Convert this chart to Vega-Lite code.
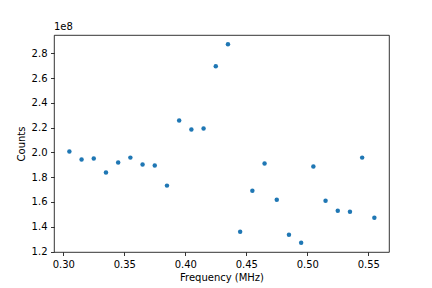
{
  "$schema": "https://vega.github.io/schema/vega-lite/v6.json",
  "width": 335,
  "height": 217,
  "autosize": "none",
  "padding": {"left": 54, "top": 35, "right": 43, "bottom": 36},
  "title": {"text": "1e8", "anchor": "start", "frame": "group", "fontSize": 10, "fontWeight": "normal", "font": "DejaVu Sans", "color": "#000", "offset": 3},
  "config": {
    "view": {"stroke": "#000", "strokeWidth": 0.8},
    "axis": {
      "grid": false, "domain": false, "tickColor": "#000", "tickSize": 3.5, "tickWidth": 0.8,
      "labelFont": "DejaVu Sans", "labelFontSize": 10, "labelColor": "#000", "labelPadding": 3.5,
      "titleFont": "DejaVu Sans", "titleFontSize": 10, "titleFontWeight": "normal", "titleColor": "#000"
    }
  },
  "data": {"values": [
    {"f": 0.305, "c": 200700000},
    {"f": 0.315, "c": 194200000},
    {"f": 0.325, "c": 195000000},
    {"f": 0.335, "c": 183700000},
    {"f": 0.345, "c": 191800000},
    {"f": 0.355, "c": 195800000},
    {"f": 0.365, "c": 190200000},
    {"f": 0.375, "c": 189400000},
    {"f": 0.385, "c": 173200000},
    {"f": 0.395, "c": 225800000},
    {"f": 0.405, "c": 218500000},
    {"f": 0.415, "c": 219300000},
    {"f": 0.425, "c": 269500000},
    {"f": 0.435, "c": 287300000},
    {"f": 0.445, "c": 135900000},
    {"f": 0.455, "c": 169100000},
    {"f": 0.465, "c": 191000000},
    {"f": 0.475, "c": 161800000},
    {"f": 0.485, "c": 133500000},
    {"f": 0.495, "c": 127000000},
    {"f": 0.505, "c": 188600000},
    {"f": 0.515, "c": 161000000},
    {"f": 0.525, "c": 152900000},
    {"f": 0.535, "c": 152100000},
    {"f": 0.545, "c": 195800000},
    {"f": 0.555, "c": 147300000}
  ]},
  "mark": {"type": "point", "filled": true, "opacity": 1, "size": 20, "color": "#1f77b4"},
  "encoding": {
    "x": {"field": "f", "type": "quantitative", "title": "Frequency (MHz)",
      "scale": {"domain": [0.2924, 0.567], "nice": false, "zero": false},
      "axis": {"values": [0.30, 0.35, 0.40, 0.45, 0.50, 0.55], "format": ".2f", "titlePadding": 3}},
    "y": {"field": "c", "type": "quantitative", "title": "Counts",
      "scale": {"domain": [119600000, 294800000], "nice": false, "zero": false},
      "axis": {"values": [120000000, 140000000, 160000000, 180000000, 200000000, 220000000, 240000000, 260000000, 280000000],
        "labelExpr": "format(datum.value/1e8, '.1f')", "titlePadding": 5}}
  }
}
